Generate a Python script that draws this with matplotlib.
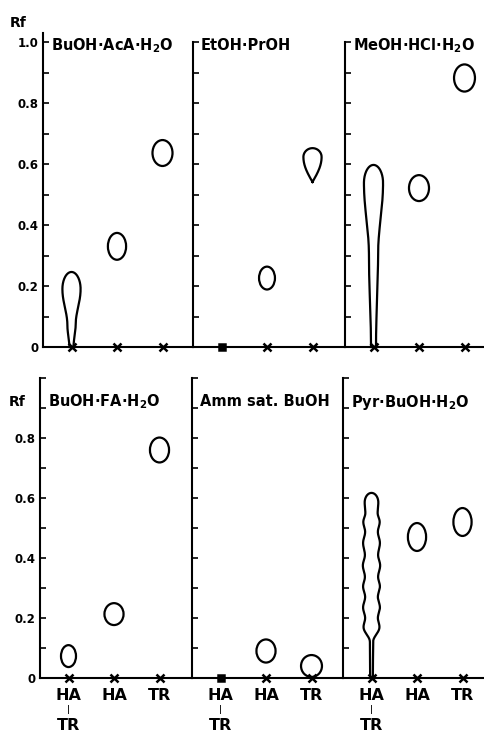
import matplotlib
matplotlib.use("Agg")
import matplotlib.pyplot as plt
from matplotlib.patches import Ellipse
import numpy as np

plt.rcParams.update({
    "font.family": "DejaVu Sans",
    "font.weight": "bold",
    "mathtext.default": "bf",
    "axes.linewidth": 1.5,
})

W, H, DPI = 484, 732, 100

# solvent systems: top row, then bottom row
solvents = ["BuOH·AcA·H$_2$O", "EtOH·PrOH", "MeOH·HCl·H$_2$O",
            "BuOH·FA·H$_2$O", "Amm sat. BuOH", "Pyr·BuOH·H$_2$O"]
lane_top = ["HA", "HA", "TR"]
lane_bottom = ["TR", "", ""]
rf_ticks = [0, 0.2, 0.4, 0.6, 0.8, 1.0]
rf_minor = [0.1, 0.3, 0.5, 0.7, 0.9]
rf_labels_top = ["0", "0.2", "0.4", "0.6", "0.8", "1.0"]
rf_labels_bottom = ["0", "0.2", "0.4", "0.6", "0.8", ""]

# round spots (width in lane units, height in Rf)
spot_panel = [0, 0, 1, 2, 2, 3, 3, 3, 4, 4, 5, 5]
spot_lane = [1, 2, 1, 1, 2, 0, 1, 2, 1, 2, 1, 2]
spot_rf = [0.33, 0.636, 0.226, 0.521, 0.882, 0.073, 0.213, 0.76, 0.09, 0.04, 0.47, 0.52]
spot_w = [0.40, 0.44, 0.35, 0.44, 0.46, 0.33, 0.42, 0.42, 0.42, 0.46, 0.40, 0.40]
spot_h = [0.088, 0.085, 0.075, 0.085, 0.089, 0.073, 0.073, 0.083, 0.077, 0.073, 0.093, 0.093]

# streaks / tailed spots: knots (Rf, width) from the bottom up to the widest part of the head
streak_panel = [0, 1, 2, 5]
streak_lane = [0, 2, 0, 0]
streak_top = [0.246, 0.652, 0.597, 0.617]
streak_rf = [
    [0.0, 0.07, 0.19],
    [0.541, 0.623],
    [0.0, 0.30, 0.538],
    [0.0, 0.12, 0.17, 0.20, 0.235, 0.27, 0.305, 0.337, 0.375, 0.41, 0.45, 0.487, 0.52, 0.55, 0.585],
]
streak_w = [
    [0.09, 0.18, 0.40],
    [0.0, 0.40],
    [0.11, 0.20, 0.42],
    [0.06, 0.07, 0.35, 0.28, 0.37, 0.28, 0.37, 0.29, 0.38, 0.29, 0.37, 0.28, 0.36, 0.27, 0.30],
]

# origin marks per panel
origin_marker = [["x", "x", "x"], ["s", "x", "x"], ["x", "x", "x"],
                 ["x", "x", "x"], ["s", "x", "x"], ["x", "x", "x"]]

# layout in pixels
rows = [dict(base=347, scale=305, top=1.03, edges=[43, 193, 345, 484], title_rf=0.987),
        dict(base=678, scale=300, top=1.0, edges=[40, 192, 343, 484], title_rf=0.92)]
lane_px, lane0_px = 45.5, 28.5


def outline(rf_k, w_k, top):
    rs, hs = [], []
    for i in range(len(rf_k) - 1):
        t = np.linspace(0, 1, 30)
        a, b = w_k[i] / 2, w_k[i + 1] / 2
        if a == 0:
            ease = np.sin(np.pi * t / 2)          # pointed tip
        else:
            ease = (1 - np.cos(np.pi * t)) / 2
        rs.append(rf_k[i] + (rf_k[i + 1] - rf_k[i]) * t)
        hs.append(a + (b - a) * ease)
    phi = np.linspace(0, np.pi / 2, 40)
    rs.append(rf_k[-1] + (top - rf_k[-1]) * np.sin(phi))
    hs.append(w_k[-1] / 2 * np.cos(phi))
    return np.concatenate(rs), np.concatenate(hs)


fig = plt.figure(figsize=(W / DPI, H / DPI), dpi=DPI)
axes = []
for r, row in enumerate(rows):
    for c in range(3):
        x0, x1 = row["edges"][c], row["edges"][c + 1]
        ax = fig.add_axes([x0 / W, 1 - row["base"] / H, (x1 - x0) / W, row["top"] * row["scale"] / H])
        ax.set_xlim(-lane0_px / lane_px, (x1 - x0 - lane0_px) / lane_px)
        ax.set_ylim(0, row["top"])
        ax.spines[["top", "right"]].set_visible(False)
        if c > 0 or r == 1:
            ax.spines["left"].set_bounds(0, 1.0)
        ax.set_yticks(rf_ticks)
        ax.set_yticks(rf_minor, minor=True)
        ax.tick_params(axis="y", which="both", direction="in", length=4, width=1.2)
        ax.tick_params(axis="y", labelsize=8.5, pad=3)
        if c == 0:
            ax.set_yticklabels(rf_labels_top if r == 0 else rf_labels_bottom)
        else:
            ax.set_yticklabels([])
        ax.set_xticks([])
        ax.annotate(solvents[3 * r + c], xy=(0, row["title_rf"]), xycoords=("axes fraction", "data"),
                    xytext=(8, 0), textcoords="offset pixels", va="center", ha="left", fontsize=10.5)
        for lane in range(3):
            m = origin_marker[3 * r + c][lane]
            ax.plot(lane, 0, m, ms=6 if m == "x" else 4.5, mew=1.8, color="k", clip_on=False, zorder=5)
            if r == 1:
                ax.annotate(lane_top[lane], xy=(lane, 0), xytext=(0, -18), textcoords="offset pixels",
                            ha="center", va="center", fontsize=11.5, annotation_clip=False)
                if lane_bottom[lane]:
                    ax.annotate("|", xy=(lane, 0), xytext=(0, -32), textcoords="offset pixels",
                                ha="center", va="center", fontsize=6, annotation_clip=False)
                    ax.annotate(lane_bottom[lane], xy=(lane, 0), xytext=(0, -47), textcoords="offset pixels",
                                ha="center", va="center", fontsize=11.5, annotation_clip=False)
        axes.append(ax)

for p, lane, rf, w, h in zip(spot_panel, spot_lane, spot_rf, spot_w, spot_h):
    axes[p].add_patch(Ellipse((lane, rf), w, h, fill=False, lw=1.6, color="k"))

for p, lane, top, rf_k, w_k in zip(streak_panel, streak_lane, streak_top, streak_rf, streak_w):
    rs, hs = outline(rf_k, w_k, top)
    xs = np.concatenate([lane + hs, (lane - hs)[::-1]])
    ys = np.concatenate([rs, rs[::-1]])
    axes[p].plot(xs, ys, color="k", lw=1.6, clip_on=False)

fig.text(18 / W, 1 - 23 / H, "Rf", ha="center", va="center", fontsize=10)
fig.text(17 / W, 1 - 402 / H, "Rf", ha="center", va="center", fontsize=10)

fig.savefig("out.png", dpi=DPI)
